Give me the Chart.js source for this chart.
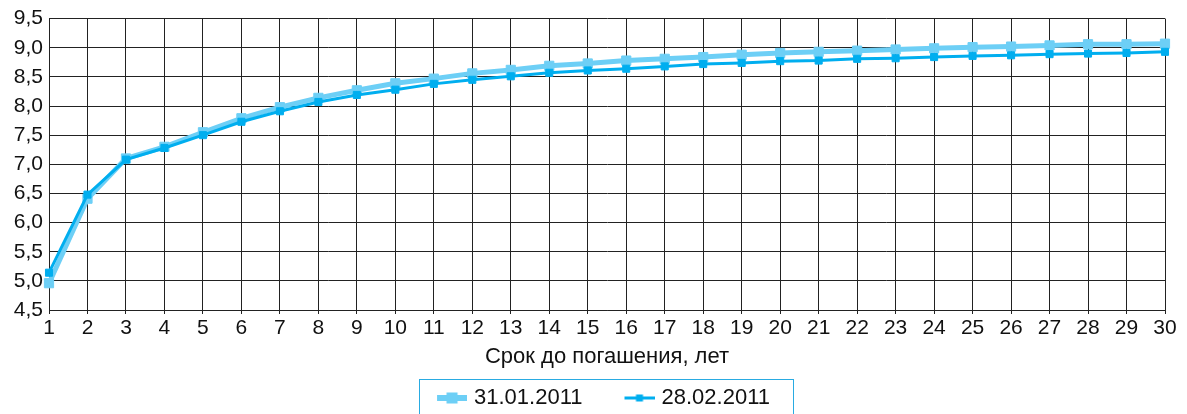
<!DOCTYPE html>
<html><head><meta charset="utf-8">
<script src="https://cdn.jsdelivr.net/npm/chart.js@4.4.1/dist/chart.umd.min.js"></script>
<style>html,body{margin:0;padding:0;background:#fff;overflow:hidden}</style>
</head><body>
<canvas id="c" width="1187" height="414"></canvas>
<script>
const categories = [1,2,3,4,5,6,7,8,9,10,11,12,13,14,15,16,17,18,19,20,21,22,23,24,25,26,27,28,29,30];
const series310111 = [4.96,6.41,7.10,7.30,7.55,7.79,7.98,8.14,8.27,8.39,8.47,8.56,8.62,8.69,8.73,8.78,8.81,8.84,8.88,8.91,8.93,8.95,8.97,8.99,9.01,9.02,9.04,9.06,9.06,9.07];
const series280211 = [5.14,6.48,7.08,7.28,7.50,7.73,7.91,8.07,8.19,8.28,8.38,8.45,8.51,8.57,8.61,8.64,8.68,8.72,8.74,8.77,8.78,8.81,8.82,8.84,8.86,8.87,8.89,8.90,8.91,8.93];
const yTickLabels = ['4,5','5,0','5,5','6,0','6,5','7,0','7,5','8,0','8,5','9,0','9,5'];
const seriesNames = ['31.01.2011','28.02.2011'];
const xAxisTitle = 'Срок до погашения, лет';

const LIGHT = '#6dcff6', DARK = '#00aeef';
const FONT = "'Liberation Sans', Arial, Helvetica, sans-serif";

function makeIcon(color, lineW, sq) {
  const c = document.createElement('canvas');
  c.width = 76; c.height = 16;
  const g = c.getContext('2d');
  g.fillStyle = color;
  g.fillRect(46, 8 - lineW / 2, 30, lineW);
  g.fillRect(61 - sq / 2, 8 - sq / 2, sq, sq);
  return c;
}
const icons = [makeIcon(LIGHT, 6, 11), makeIcon(DARK, 3, 7)];

const legendBorder = {
  id: 'legendBorder',
  afterDraw(chart) {
    const hb = chart.legend && chart.legend.legendHitBoxes;
    if (!hb || !hb.length) return;
    const ctx = chart.ctx;
    const left = Math.round(hb[0].left + 42 - 18) + 0.5;
    const last = hb[hb.length - 1];
    const right = Math.round(last.left + last.width + 23) + 0.5;
    const top = Math.round(hb[0].top - 8) + 0.5;
    ctx.save();
    ctx.strokeStyle = '#29abe2';
    ctx.lineWidth = 1;
    ctx.strokeRect(left, top, right - left, 60);
    ctx.restore();
  }
};

new Chart(document.getElementById('c'), {
  type: 'line',
  data: {
    labels: categories,
    datasets: [
      { label: seriesNames[0], data: series310111, borderColor: LIGHT, backgroundColor: LIGHT,
        borderWidth: 5, pointStyle: 'rect', pointRadius: 6.5, pointBorderWidth: 1,
        pointBackgroundColor: LIGHT, pointBorderColor: LIGHT, tension: 0, clip: false, order: 2 },
      { label: seriesNames[1], data: series280211, borderColor: DARK, backgroundColor: DARK,
        borderWidth: 3, pointStyle: 'rect', pointRadius: 5, pointBorderWidth: 1,
        pointBackgroundColor: DARK, pointBorderColor: DARK, tension: 0, clip: false, order: 1 }
    ]
  },
  options: {
    responsive: false,
    animation: false,
    events: [],
    layout: { padding: { top: 18, right: 22, left: 0, bottom: 0 } },
    scales: {
      x: {
        type: 'category',
        offset: false,
        grid: { color: '#222', lineWidth: 1, drawTicks: true, tickLength: 4, tickColor: '#222' },
        border: { color: '#222', width: 1 },
        ticks: { color: '#111', font: { family: FONT, size: 21 }, padding: 1.5, maxRotation: 0, autoSkip: false },
        title: { display: true, text: xAxisTitle, color: '#111', font: { family: FONT, size: 22 },
                 padding: { top: 0, bottom: 17 } },
        afterFit(s) { s.height = 77; }
      },
      y: {
        min: 4.5, max: 9.5,
        grid: { color: '#222', lineWidth: 1, drawTicks: false },
        border: { color: '#222', width: 1 },
        ticks: { stepSize: 0.5, color: '#111', font: { family: FONT, size: 21 }, padding: 6,
                 callback: (v, i) => yTickLabels[i] },
        afterFit(s) { s.width = 49; }
      }
    },
    plugins: {
      tooltip: { enabled: false },
      legend: {
        position: 'bottom',
        align: 'center',
        maxHeight: 27,
        labels: {
          usePointStyle: true,
          pointStyleWidth: 68,
          boxHeight: 16,
          padding: 0,
          color: '#111',
          font: { family: FONT, size: 22 },
          sort: (a, b) => a.datasetIndex - b.datasetIndex,
          generateLabels(chart) {
            const items = Chart.defaults.plugins.legend.labels.generateLabels(chart);
            items.forEach(it => { it.pointStyle = icons[it.datasetIndex]; });
            return items;
          }
        }
      }
    }
  },
  plugins: [legendBorder]
});
</script>
</body></html>
